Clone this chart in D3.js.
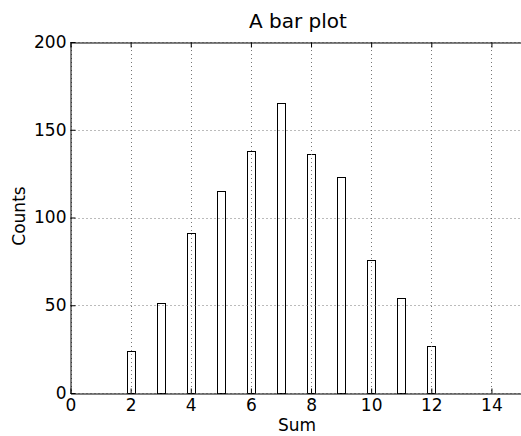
<!DOCTYPE html>
<html><head><meta charset="utf-8">
<script src="https://cdn.jsdelivr.net/npm/d3@7"></script>
<style>body{margin:0;background:#fff}svg{display:block;font-family:"DejaVu Sans",sans-serif}</style>
</head><body><svg id="c" width="521" height="436"></svg>
<script>
const sums = [2,3,4,5,6,7,8,9,10,11,12];
const counts = [24,51,91,115,138,165,136,123,76,54,27];
const xTicks = [0,2,4,6,8,10,12,14];
const yTicks = [0,50,100,150,200];
const title = "A bar plot", xLabel = "Sum", yLabel = "Counts";

const svg = d3.select("#c");
const L=70.5, R=521+0.5, T=42, B=393;
const x = d3.scaleLinear().domain([0,15]).range([L,R]);
const y = d3.scaleLinear().domain([0,200]).range([B,T]);
const bw = 0.27;
const px = v => Math.round(v)+0.5;

// bars
svg.append("g").selectAll("rect").data(sums).join("rect")
  .attr("x", d=>px(x(d-bw/2)))
  .attr("y", (d,i)=>px(y(counts[i])))
  .attr("width", d=>Math.round(x(d+bw/2))-Math.round(x(d-bw/2)))
  .attr("height", (d,i)=>Math.round(y(0))-Math.round(y(counts[i])))
  .attr("fill","#fff").attr("stroke","#000").attr("stroke-width",1);

// grid
const g = svg.append("g").attr("stroke","#777").attr("stroke-width",1).attr("stroke-dasharray","1,3");
xTicks.forEach(t=>g.append("line").attr("x1",px(x(t))).attr("x2",px(x(t))).attr("y1",T).attr("y2",B));
yTicks.forEach(t=>g.append("line").attr("y1",px(y(t))).attr("y2",px(y(t))).attr("x1",L).attr("x2",R));

// axes with inward ticks
const xb = svg.append("g").attr("transform",`translate(0,${B+0.5})`)
  .call(d3.axisBottom(x).tickValues(xTicks).tickSizeInner(-5).tickSizeOuter(0).tickPadding(5));
const xt = svg.append("g").attr("transform",`translate(0,${T+0.5})`)
  .call(d3.axisTop(x).tickValues(xTicks).tickSizeInner(-5).tickSizeOuter(0).tickFormat(""));
const yl = svg.append("g").attr("transform",`translate(${L},0)`)
  .call(d3.axisLeft(y).tickValues(yTicks).tickSizeInner(-5).tickSizeOuter(0).tickPadding(4));
[xb,xt,yl].forEach(a=>{
  a.selectAll("path").attr("stroke","#000");
  a.selectAll("line").attr("stroke","#000");
  a.selectAll("text").attr("font-family","DejaVu Sans").attr("font-size",17).attr("fill","#000");
});

svg.append("text").attr("x",298).attr("y",28).attr("text-anchor","middle").attr("font-size",20).text(title);
svg.append("text").attr("x",297).attr("y",431).attr("text-anchor","middle").attr("font-size",17).text(xLabel);
svg.append("text").attr("transform","translate(25,216) rotate(-90)").attr("text-anchor","middle").attr("font-size",17).text(yLabel);
</script></body></html>
